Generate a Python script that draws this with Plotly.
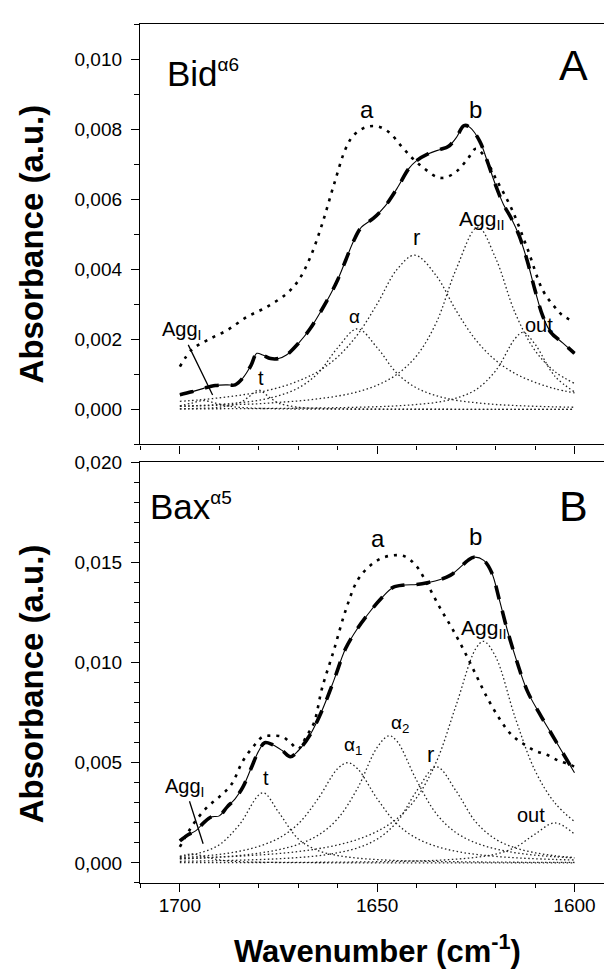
import plotly.graph_objects as go

# ---------------- DATA (absorbance in units of 1e-3) ----------------
# Panel A (Bid alpha6)
A_main_x = [1700, 1697, 1694, 1691, 1688, 1686, 1684, 1682, 1680.5, 1679, 1677, 1675, 1673, 1670,
            1667, 1664, 1662, 1660, 1658, 1656, 1654, 1651, 1648, 1645, 1642, 1640, 1637, 1634,
            1632, 1630, 1628, 1626.5, 1624, 1622, 1620, 1618, 1616, 1614, 1612, 1610, 1608, 1606,
            1603, 1600]
A_main_y = [0.42, 0.50, 0.60, 0.68, 0.70, 0.70, 0.90, 1.25, 1.60, 1.55, 1.45, 1.45, 1.55, 1.88,
            2.30, 2.85, 3.25, 3.70, 4.25, 4.80, 5.20, 5.45, 5.80, 6.30, 6.87, 7.10, 7.30, 7.42,
            7.50, 7.75, 8.10, 8.05, 7.65, 7.05, 6.40, 5.85, 5.45, 4.95, 4.25, 3.40, 2.65, 2.20,
            1.90, 1.60]
A_a_x = [1700, 1697, 1693, 1688, 1683, 1678, 1673, 1670, 1667, 1664, 1661, 1658, 1656, 1653, 1650,
         1647, 1644, 1641, 1638, 1635, 1633, 1630, 1627, 1625, 1623, 1620, 1616, 1612, 1608, 1605,
         1603, 1600]
A_a_y = [1.22, 1.70, 1.98, 2.26, 2.64, 2.92, 3.30, 3.67, 4.33, 5.27, 6.40, 7.44, 7.82, 8.05, 8.08,
         7.91, 7.53, 7.16, 6.87, 6.64, 6.61, 6.78, 7.16, 7.44, 7.25, 6.60, 5.74, 4.61, 3.39, 2.92,
         2.68, 2.50]
A_alpha_x = [1700, 1695, 1690, 1685, 1680, 1675, 1670, 1665, 1660, 1655, 1650, 1645, 1640, 1635,
             1630, 1625, 1620, 1615, 1610, 1605, 1600]
A_alpha_y = [0.088, 0.11, 0.14, 0.19, 0.26, 0.39, 0.61, 1.03, 1.76, 2.30, 1.76, 1.03, 0.61, 0.39,
             0.26, 0.19, 0.14, 0.11, 0.088, 0.072, 0.060]
A_r_x = [1700, 1695, 1690, 1685, 1680, 1675, 1670, 1665, 1660, 1655, 1650, 1645, 1640.5, 1635,
         1630, 1625, 1620, 1615, 1610, 1605, 1600]
A_r_y = [0.23, 0.27, 0.33, 0.40, 0.49, 0.62, 0.81, 1.08, 1.50, 2.13, 3.01, 3.99, 4.40, 3.81,
         2.82, 1.98, 1.40, 1.02, 0.77, 0.59, 0.47]
A_agg2_x = [1700, 1695, 1690, 1685, 1680, 1675, 1670, 1665, 1660, 1655, 1650, 1645, 1640, 1635,
            1630, 1624.5, 1620, 1615, 1610, 1605, 1600]
A_agg2_y = [0.09, 0.10, 0.12, 0.14, 0.16, 0.20, 0.24, 0.30, 0.38, 0.50, 0.69, 1.00, 1.53, 2.48,
            4.00, 5.20, 4.32, 2.74, 1.68, 1.08, 0.74]
A_out_x = [1700, 1690, 1680, 1670, 1660, 1650, 1645, 1640, 1635, 1630, 1625, 1620, 1615, 1613,
           1610, 1605, 1600]
A_out_y = [0.014, 0.018, 0.024, 0.033, 0.048, 0.076, 0.10, 0.14, 0.20, 0.32, 0.56, 1.10, 2.03,
           2.20, 1.86, 0.95, 0.50]
A_t_x = [1700, 1695, 1690, 1685, 1682.5, 1680, 1677.5, 1675, 1670, 1665, 1660, 1650, 1640, 1620,
         1600]
A_t_y = [0.016, 0.028, 0.06, 0.18, 0.36, 0.55, 0.36, 0.18, 0.06, 0.028, 0.016, 0.0074, 0.004,
         0.0019, 0.001]
A_agg1_x = [1700, 1697, 1694, 1691, 1688, 1685, 1680, 1675, 1670, 1660, 1650, 1640, 1620, 1600]
A_agg1_y = [0.10, 0.18, 0.25, 0.18, 0.10, 0.059, 0.028, 0.016, 0.010, 0.005, 0.003, 0.002,
            0.001, 0.0007]

# Panel B (Bax alpha5)
B_main_x = [1700, 1698, 1696, 1694, 1692, 1690, 1688, 1686, 1684, 1682, 1680, 1678.5, 1676.5,
            1674, 1672, 1670, 1667, 1664, 1661, 1658, 1655, 1652, 1649, 1646, 1643, 1640, 1637,
            1634, 1631.5, 1629, 1627, 1625.5, 1623, 1621, 1619, 1617, 1615, 1612, 1609, 1606,
            1603, 1600]
B_main_y = [1.10, 1.40, 1.60, 2.00, 2.30, 2.35, 2.80, 3.20, 3.80, 4.70, 5.60, 6.00, 5.90, 5.60,
            5.30, 5.60, 6.40, 7.60, 9.10, 10.70, 11.70, 12.50, 13.20, 13.75, 13.87, 13.90, 14.00,
            14.15, 14.35, 14.75, 15.10, 15.26, 15.10, 14.50, 13.10, 11.60, 10.30, 8.60, 7.50,
            6.50, 5.50, 4.50]
B_a_x = [1700, 1698, 1696, 1693, 1690, 1687, 1684, 1681, 1679, 1676.5, 1674, 1672, 1670, 1668,
         1666, 1664, 1661, 1658, 1655, 1652, 1649, 1646, 1643, 1640, 1637, 1634, 1631, 1628, 1625,
         1622, 1619, 1616, 1613, 1610, 1607, 1604, 1601, 1600]
B_a_y = [0.80, 1.50, 2.10, 2.80, 3.30, 3.90, 5.10, 5.90, 6.30, 6.35, 6.30, 6.00, 5.70, 6.30,
         7.00, 8.70, 10.60, 12.60, 14.10, 14.80, 15.20, 15.35, 15.30, 14.80, 13.80, 12.70, 11.70,
         10.60, 9.40, 8.20, 7.20, 6.40, 5.95, 5.60, 5.40, 5.10, 4.90, 4.80]
B_t_x = [1700, 1695, 1690, 1685, 1679, 1675, 1670, 1665, 1660, 1655, 1650, 1645, 1640, 1635,
         1630, 1625, 1620, 1615, 1610, 1605, 1600]
B_t_y = [0.31, 0.50, 0.91, 1.89, 3.50, 2.54, 1.20, 0.62, 0.37, 0.24, 0.17, 0.12, 0.095, 0.075,
         0.061, 0.050, 0.042, 0.036, 0.031, 0.027, 0.024]
B_alpha1_x = [1700, 1695, 1690, 1685, 1680, 1675, 1670, 1665, 1660, 1657.5, 1655, 1650, 1645,
              1640, 1635, 1630, 1625, 1620, 1615, 1610, 1605, 1600]
B_alpha1_y = [0.26, 0.33, 0.43, 0.58, 0.83, 1.23, 1.95, 3.20, 4.71, 5.00, 4.71, 3.20, 1.95,
              1.23, 0.83, 0.58, 0.43, 0.33, 0.26, 0.21, 0.175, 0.147]
B_alpha2_x = [1700, 1695, 1690, 1685, 1680, 1675, 1670, 1665, 1660, 1655, 1650, 1647, 1645,
              1640, 1635, 1630, 1625, 1620, 1615, 1610, 1605, 1600]
B_alpha2_y = [0.20, 0.24, 0.30, 0.37, 0.49, 0.66, 0.93, 1.38, 2.21, 3.72, 5.77, 6.35, 6.08,
              4.12, 2.45, 1.51, 1.00, 0.70, 0.51, 0.39, 0.31, 0.25]
B_r_x = [1700, 1695, 1690, 1685, 1680, 1675, 1670, 1665, 1660, 1655, 1650, 1645, 1640, 1635,
         1630, 1625, 1620, 1615, 1610, 1605, 1600]
B_r_y = [0.083, 0.097, 0.115, 0.138, 0.169, 0.21, 0.27, 0.36, 0.51, 0.75, 1.19, 2.04, 3.59,
         4.80, 3.59, 2.04, 1.19, 0.75, 0.51, 0.36, 0.27]
B_agg2_x = [1700, 1695, 1690, 1685, 1680, 1675, 1670, 1665, 1660, 1655, 1650, 1645, 1640, 1635,
            1630, 1625, 1623, 1620, 1615, 1610, 1605, 1600]
B_agg2_y = [0.22, 0.25, 0.29, 0.34, 0.40, 0.47, 0.57, 0.71, 0.90, 1.17, 1.58, 2.21, 3.26, 5.05,
            7.87, 10.70, 11.06, 10.30, 7.23, 4.61, 3.00, 2.06]
B_out_x = [1700, 1690, 1680, 1670, 1660, 1650, 1645, 1640, 1635, 1630, 1625, 1620, 1615, 1610,
           1605, 1600]
B_out_y = [0.014, 0.018, 0.023, 0.030, 0.041, 0.061, 0.077, 0.10, 0.13, 0.19, 0.28, 0.44, 0.78,
           1.44, 2.00, 1.44]
B_agg1_x = [1700, 1697, 1695, 1690, 1685, 1680, 1675, 1670, 1660, 1650, 1640, 1630, 1620, 1610,
            1600]
B_agg1_y = [0.33, 0.45, 0.39, 0.15, 0.067, 0.036, 0.022, 0.015, 0.008, 0.005, 0.003, 0.002,
            0.002, 0.001, 0.001]

# Tick labels
x_major = [1700, 1650, 1600]
x_major_text = ["1700", "1650", "1600"]
x_minor = [1710, 1690, 1680, 1670, 1660, 1640, 1630, 1620, 1610, 1590]
A_y_major = [0, 2, 4, 6, 8, 10]
A_y_major_text = ["0,000", "0,002", "0,004", "0,006", "0,008", "0,010"]
A_y_minor = [-1, 1, 3, 5, 7, 9, 11]
B_y_major = [0, 5, 10, 15, 20]
B_y_major_text = ["0,000", "0,005", "0,010", "0,015", "0,020"]
B_y_minor = [-1, 1, 2, 3, 4, 6, 7, 8, 9, 11, 12, 13, 14, 16, 17, 18, 19]

# Band labels: (text, x, y, font size)
A_labels = [("a", 1652.7, 8.55, 24), ("b", 1625.1, 8.55, 24), ("Agg<sub>II</sub>", 1623.5, 5.41, 21),
            ("r", 1640.0, 4.90, 22), ("α", 1655.7, 2.66, 19), ("out", 1609.1, 2.40, 20),
            ("t", 1679.4, 0.89, 20)]
B_labels = [("a", 1649.7, 16.2, 24), ("b", 1625.2, 16.3, 24), ("Agg<sub>II</sub>", 1623.0, 11.7, 21),
            ("α<sub>2</sub>", 1644.3, 6.94, 19), ("α<sub>1</sub>", 1656.2, 5.86, 19),
            ("r", 1636.5, 5.42, 22), ("t", 1678.1, 4.23, 20), ("out", 1611.1, 2.41, 20)]

FONT = "Liberation Sans, Arial, sans-serif"

fig = go.Figure()

comp_line = dict(color="#222", width=1.3, dash="1.5px,2.5px")


def add_panel(xa, ya, main_x, main_y, a_x, a_y, comps):
    for cx, cy in comps:
        fig.add_trace(go.Scatter(x=cx, y=cy, mode="lines", line=dict(shape="spline", **comp_line),
                                 xaxis=xa, yaxis=ya, showlegend=False, hoverinfo="skip"))
    fig.add_trace(go.Scatter(x=a_x, y=a_y, mode="lines",
                             line=dict(color="black", width=2.6, dash="3px,6px", shape="spline"),
                             xaxis=xa, yaxis=ya, showlegend=False))
    fig.add_trace(go.Scatter(x=main_x, y=main_y, mode="lines",
                             line=dict(color="black", width=1.1, shape="spline"),
                             xaxis=xa, yaxis=ya, showlegend=False))
    fig.add_trace(go.Scatter(x=main_x, y=main_y, mode="lines",
                             line=dict(color="black", width=3.6, dash="14px,12px", shape="spline"),
                             xaxis=xa, yaxis=ya, showlegend=False))


add_panel("x2", "y2", A_main_x, A_main_y, A_a_x, A_a_y,
          [(A_agg1_x, A_agg1_y), (A_t_x, A_t_y), (A_alpha_x, A_alpha_y), (A_r_x, A_r_y),
           (A_agg2_x, A_agg2_y), (A_out_x, A_out_y)])
add_panel("x", "y", B_main_x, B_main_y, B_a_x, B_a_y,
          [(B_agg1_x, B_agg1_y), (B_t_x, B_t_y), (B_alpha1_x, B_alpha1_y),
           (B_alpha2_x, B_alpha2_y), (B_r_x, B_r_y), (B_agg2_x, B_agg2_y), (B_out_x, B_out_y)])

annotations = []
for text, x, y, s in A_labels:
    annotations.append(dict(text=text, x=x, y=y, xref="x2", yref="y2", showarrow=False,
                            font=dict(family=FONT, size=s, color="black")))
for text, x, y, s in B_labels:
    annotations.append(dict(text=text, x=x, y=y, xref="x", yref="y", showarrow=False,
                            font=dict(family=FONT, size=s, color="black")))

# Agg_I labels with pointer lines
annotations.append(dict(text="Agg<sub>I</sub>", x=1691.7, y=0.41, ax=1699.6, ay=2.24,
                        xref="x2", yref="y2", axref="x2", ayref="y2", showarrow=True,
                        arrowhead=0, arrowwidth=1.3, arrowcolor="black",
                        font=dict(family=FONT, size=20, color="black")))
annotations.append(dict(text="Agg<sub>I</sub>", x=1694.1, y=0.96, ax=1698.7, ay=3.78,
                        xref="x", yref="y", axref="x", ayref="y", showarrow=True,
                        arrowhead=0, arrowwidth=1.3, arrowcolor="black",
                        font=dict(family=FONT, size=20, color="black")))

# Panel titles and letters
annotations.append(dict(text="Bid<sup><span style='font-size:19px'>α6</span></sup>", x=1694.2, y=9.6,
                        xref="x2", yref="y2", showarrow=False,
                        font=dict(family=FONT, size=35, color="black")))
annotations.append(dict(text="A", x=1600.3, y=9.82, xref="x2", yref="y2", showarrow=False,
                        font=dict(family=FONT, size=43, color="black")))
annotations.append(dict(text="Bax<sup><span style='font-size:19px'>α5</span></sup>", x=1697.2, y=17.8,
                        xref="x", yref="y", showarrow=False,
                        font=dict(family=FONT, size=35, color="black")))
annotations.append(dict(text="B", x=1600.3, y=17.8, xref="x", yref="y", showarrow=False,
                        font=dict(family=FONT, size=43, color="black")))

# Axis titles (positions expressed relative to the plot area)
H = 869
annotations.append(dict(text="<b>Absorbance (a.u.)</b>", x=(31 - 140) / 472, y=(883 - 237) / H,
                        xref="paper", yref="paper", textangle=-90, showarrow=False,
                        xanchor="center", yanchor="middle",
                        font=dict(family=FONT, size=33, color="black")))
annotations.append(dict(text="<b>Absorbance (a.u.)</b>", x=(31 - 140) / 472, y=(883 - 682) / H,
                        xref="paper", yref="paper", textangle=-90, showarrow=False,
                        xanchor="center", yanchor="middle",
                        font=dict(family=FONT, size=33, color="black")))
annotations.append(dict(text="<b>Wavenumber (cm<sup>-1</sup>)</b>", x=(377 - 140) / 472,
                        y=(883 - 950) / H, xref="paper", yref="paper", showarrow=False,
                        xanchor="center", yanchor="middle",
                        font=dict(family=FONT, size=31, color="black")))

xcommon = dict(range=[1710.1, 1590.5], showline=True, linecolor="black", linewidth=1.3,
               mirror=True, ticks="outside", ticklen=8, tickwidth=1.3, tickcolor="black",
               tickvals=x_major, ticktext=x_major_text, showgrid=False, zeroline=False,
               ticklabelstandoff=-3,
               minor=dict(tickvals=x_minor, ticks="outside", ticklen=4, tickwidth=1.3,
                          tickcolor="black", showgrid=False),
               tickfont=dict(family=FONT, size=19, color="black"))
ycommon = dict(showline=True, linecolor="black", linewidth=1.3, mirror=False, ticks="outside",
               ticklen=8, tickwidth=1.3, tickcolor="black", showgrid=False, zeroline=False,
               ticklabelstandoff=5,
               tickfont=dict(family=FONT, size=19, color="black"))

fig.update_layout(
    width=612, height=973,
    margin=dict(l=132, r=8, t=6, b=98),
    paper_bgcolor="white", plot_bgcolor="white",
    showlegend=False,
    xaxis=dict(anchor="y", **xcommon),
    xaxis2=dict(anchor="y2", showticklabels=False, **xcommon),
    yaxis=dict(domain=[0, (883 - 457.3) / H], range=[-1, 20], anchor="x",
               tickvals=B_y_major, ticktext=B_y_major_text,
               minor=dict(tickvals=B_y_minor, ticks="outside", ticklen=5, tickwidth=1.3,
                          tickcolor="black", showgrid=False), **ycommon),
    yaxis2=dict(domain=[(883 - 439.3) / H, 1], range=[-1, 11], anchor="x2",
                tickvals=A_y_major, ticktext=A_y_major_text,
                minor=dict(tickvals=A_y_minor, ticks="outside", ticklen=5, tickwidth=1.3,
                           tickcolor="black", showgrid=False), **ycommon),
    annotations=annotations,
)

fig.write_html("out.html")
